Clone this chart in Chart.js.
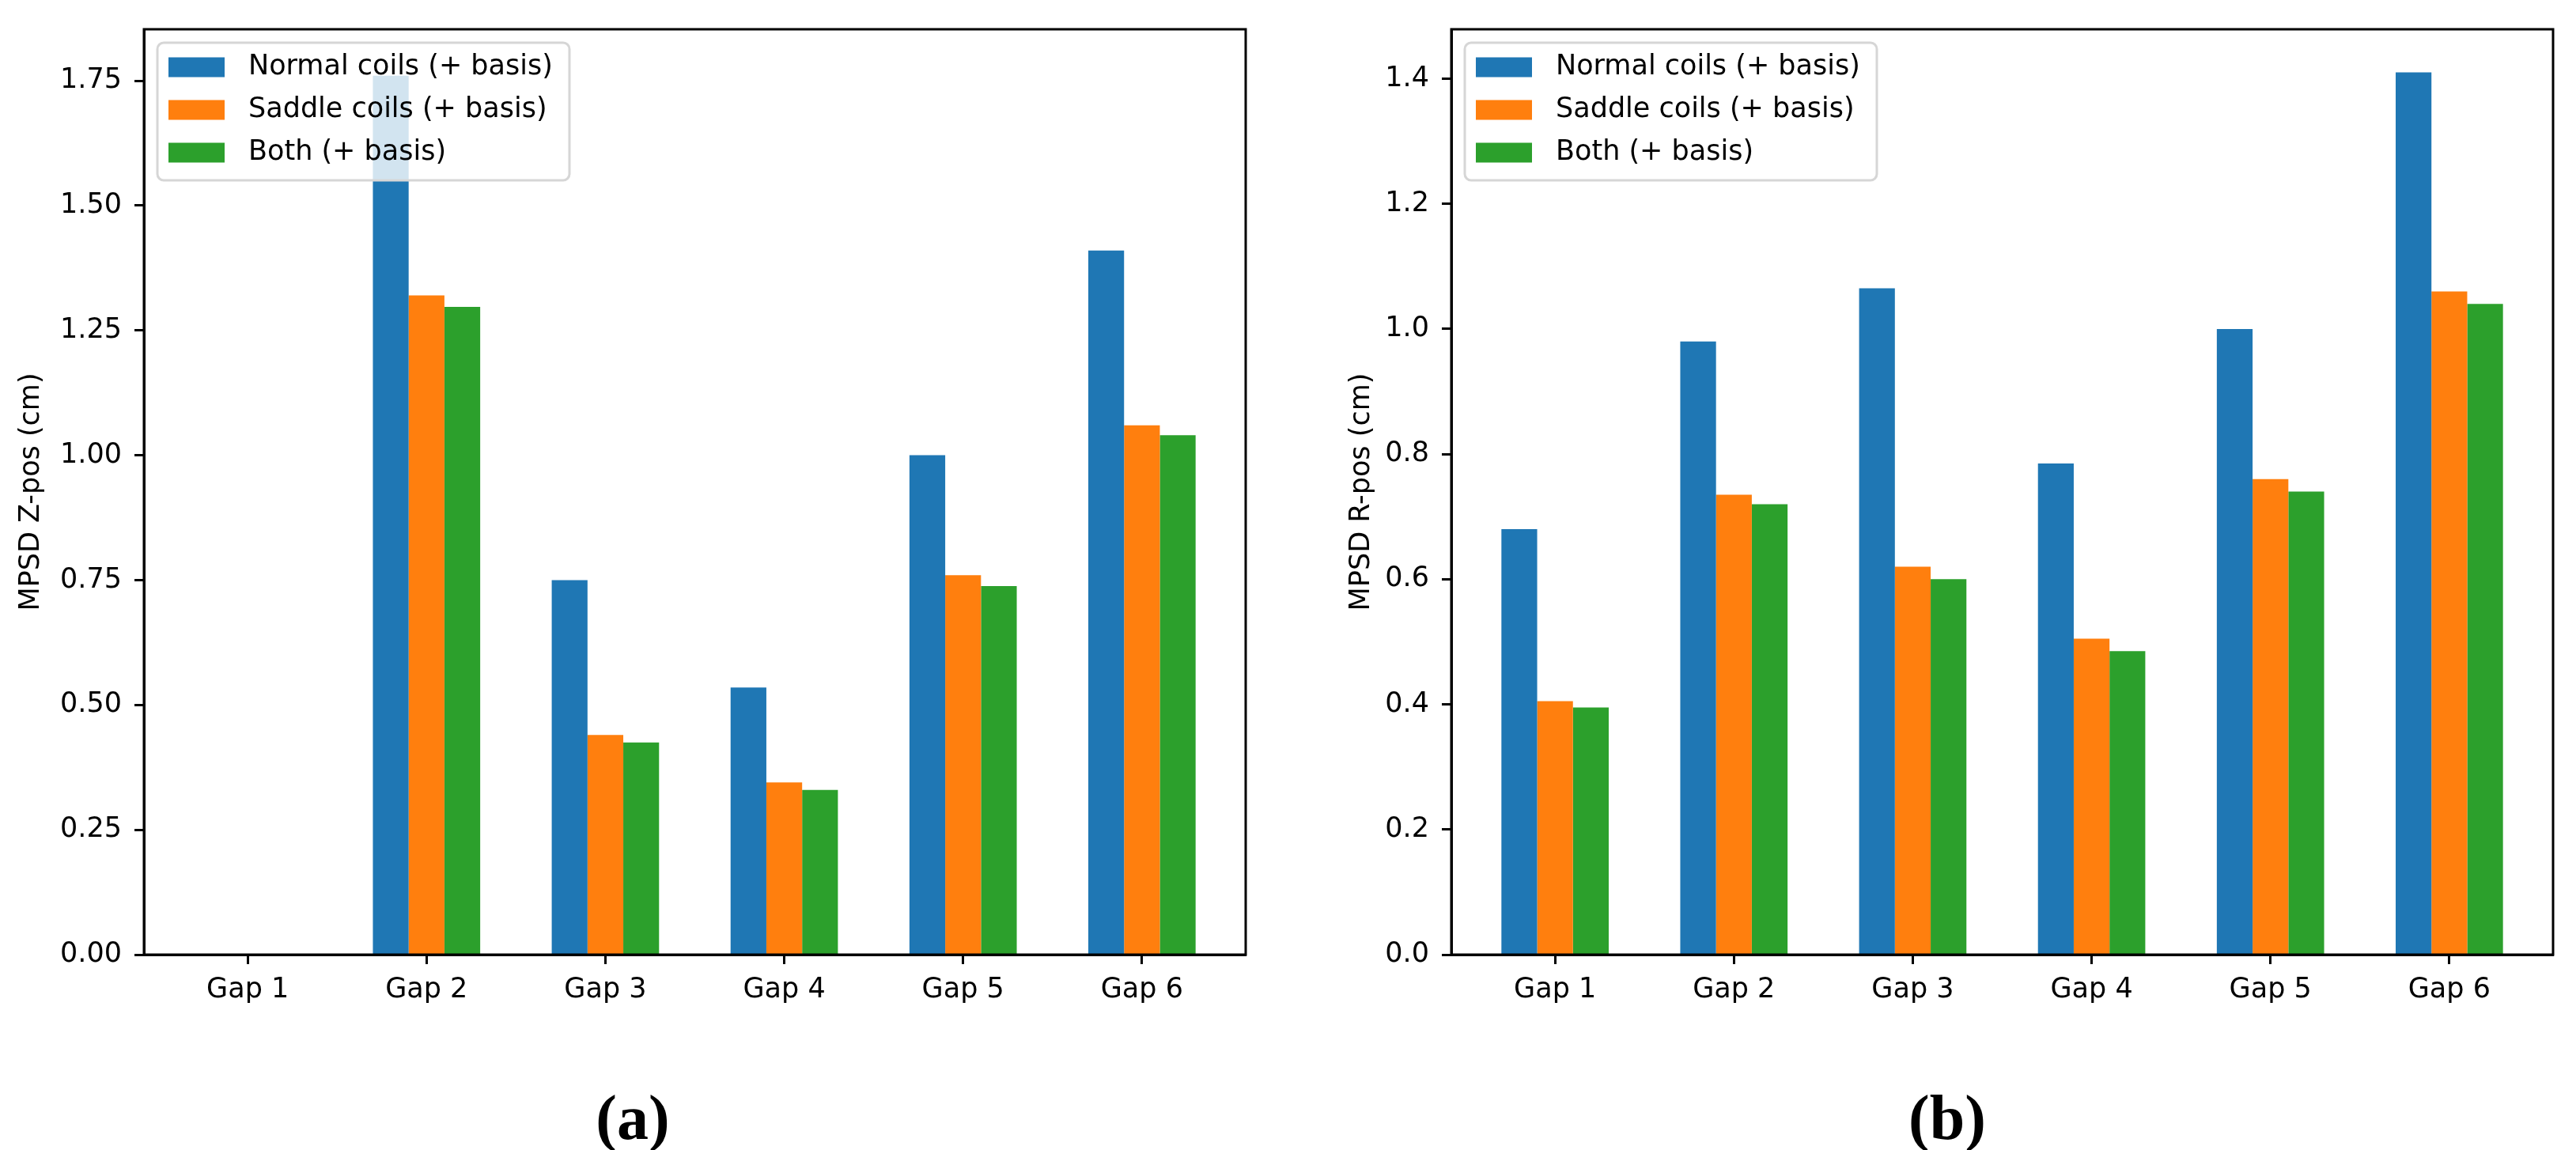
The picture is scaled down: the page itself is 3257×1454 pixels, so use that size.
<!DOCTYPE html>
<html>
<head>
<meta charset="utf-8">
<script src="https://cdn.jsdelivr.net/npm/chart.js@4.4.0/dist/chart.umd.min.js"></script>
<style>
  body { margin: 0; background: #fff; width: 3257px; height: 1454px; position: relative; overflow: hidden; }
  canvas { position: absolute; top: 0; }
  .cap { position: absolute; top: 1368px; line-height: 1; font: bold 80px "Liberation Serif", serif; transform: translateX(-50%); color: #000; }
</style>
</head>
<body>
<canvas id="chartA" width="1640" height="1300" style="left:0px"></canvas>
<canvas id="chartB" width="1617" height="1300" style="left:1640px"></canvas>
<div class="cap" style="left:800px">(a)</div>
<div class="cap" style="left:2462px">(b)</div>
<script>
let categories = ["Gap 1", "Gap 2", "Gap 3", "Gap 4", "Gap 5", "Gap 6"];
let seriesNames = ["Normal coils (+ basis)", "Saddle coils (+ basis)", "Both (+ basis)"];
let colors = ["#1f77b4", "#ff7f0e", "#2ca02c"];

// panel (a) - Z position
let zNormal = [0, 1.76, 0.75, 0.535, 1.00, 1.41];
let zSaddle = [0, 1.32, 0.44, 0.345, 0.76, 1.06];
let zBoth   = [0, 1.297, 0.425, 0.33, 0.738, 1.04];
let zTicks  = [0, 0.25, 0.5, 0.75, 1.0, 1.25, 1.5, 1.75];

// panel (b) - R position
let rNormal = [0.68, 0.98, 1.065, 0.785, 1.00, 1.41];
let rSaddle = [0.405, 0.735, 0.62, 0.505, 0.76, 1.06];
let rBoth   = [0.395, 0.72, 0.60, 0.485, 0.74, 1.04];
let rTicks  = [0, 0.2, 0.4, 0.6, 0.8, 1.0, 1.2, 1.4];

Chart.defaults.color = "#000";
Chart.defaults.font.family = "'DejaVu Sans'";
Chart.defaults.font.size = 35;

// matplotlib style frame + legend box inside the axes
const frameAndLegend = {
  id: "frameAndLegend",
  afterDatasetsDraw(chart) {
    const ctx = chart.ctx;
    const a = chart.chartArea;
    ctx.save();
    ctx.lineWidth = 3;
    ctx.strokeStyle = "#000";
    ctx.strokeRect(a.left, a.top, a.right - a.left, a.bottom - a.top);

    const x = a.left + 17, y = a.top + 17, w = 521, h = 174;
    ctx.beginPath();
    ctx.roundRect(x, y, w, h, 8);
    ctx.fillStyle = "rgba(255,255,255,0.8)";
    ctx.fill();
    ctx.lineWidth = 3;
    ctx.strokeStyle = "#d6d6d6";
    ctx.stroke();
    ctx.font = "35px 'DejaVu Sans'";
    ctx.textBaseline = "middle";
    chart.data.datasets.forEach((ds, i) => {
      const cy = y + 31 + i * 54;
      ctx.fillStyle = ds.backgroundColor;
      ctx.fillRect(x + 14, cy - 12.5, 71, 25);
      ctx.fillStyle = "#000";
      ctx.fillText(ds.label, x + 115, cy);
    });
    ctx.restore();
  }
};

function makeChart(id, series, ticks, yMax, decimals, yTitle, yWidth, titlePad, rightPad) {
  const datasets = series.map((vals, s) => ({
    label: seriesNames[s],
    data: vals.map((v, i) => ({ x: i, y: v })),
    backgroundColor: colors[s],
    borderWidth: 0,
    barPercentage: 1.0,
    categoryPercentage: 0.6
  }));
  return new Chart(document.getElementById(id), {
    type: "bar",
    data: { datasets: datasets },
    plugins: [frameAndLegend],
    options: {
      responsive: false,
      animation: false,
      layout: { padding: { left: 0, top: 19, right: rightPad, bottom: 0 } },
      plugins: { legend: { display: false }, tooltip: { enabled: false } },
      scales: {
        x: {
          type: "linear",
          min: -0.58,
          max: 5.58,
          offset: false,
          afterBuildTicks: (scale) => { scale.ticks = categories.map((c, i) => ({ value: i })); },
          afterFit: (scale) => { scale.height = 93; },
          ticks: { padding: 12, callback: (v) => categories[v] },
          grid: { offset: false, drawOnChartArea: false, drawTicks: true, tickLength: 12, tickWidth: 3, tickColor: "#000" },
          border: { display: true, color: "#000", width: 3 }
        },
        y: {
          min: 0,
          max: yMax,
          afterBuildTicks: (scale) => { scale.ticks = ticks.map((v) => ({ value: v })); },
          afterFit: (scale) => { scale.width = yWidth; },
          ticks: { padding: 16, callback: (v) => v.toFixed(decimals) },
          grid: { drawOnChartArea: false, drawTicks: true, tickLength: 12, tickWidth: 3, tickColor: "#000" },
          border: { display: true, color: "#000", width: 3 },
          title: { display: true, text: yTitle, padding: { top: titlePad, bottom: 0 }, font: { size: 35 } }
        }
      }
    }
  });
}

makeChart("chartA", [zNormal, zSaddle, zBoth], zTicks, 1.853, 2, "MPSD Z-pos (cm)", 182, 19, 65);
makeChart("chartB", [rNormal, rSaddle, rBoth], rTicks, 1.479, 1, "MPSD R-pos (cm)", 195, 61, 29);
</script>
</body>
</html>
